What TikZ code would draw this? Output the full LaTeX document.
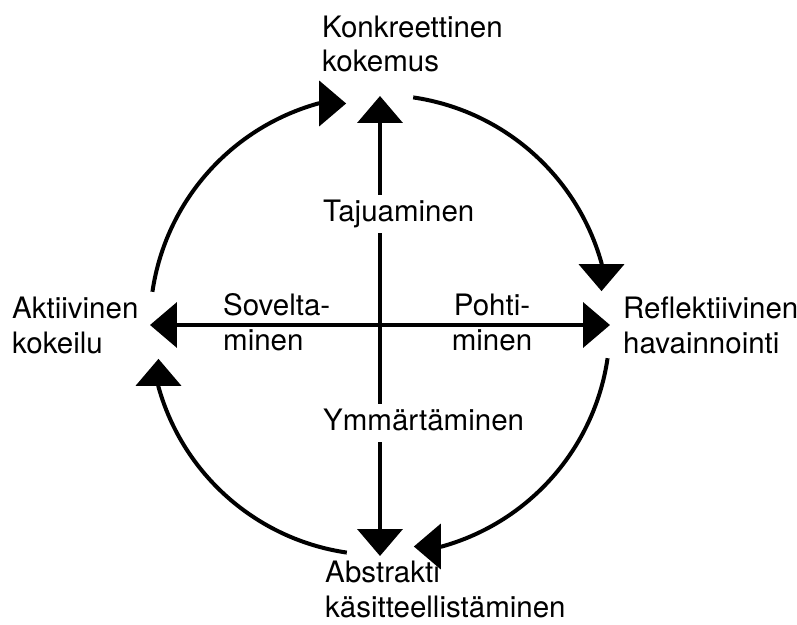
\documentclass[tikz,border=0pt]{standalone}
\usepackage{fontspec}
\setmainfont{TeX Gyre Heros}
\usepackage{tikz}
\usetikzlibrary{arrows.meta,positioning}

\begin{document}
\begin{tikzpicture}[
  x=1pt, y=1pt,
  lbl/.style={anchor=base west, inner sep=0pt, align=left},
  midlbl/.style={anchor=base west, fill=white, inner sep=6pt,
                 text height=20pt, text depth=6pt},
  axis/.style={line width=4pt,
               {Triangle[length=27pt,width=45pt]}-{Triangle[length=27pt,width=45pt]}},
  cyc/.style={line width=4pt, -{Triangle[length=27pt,width=45pt]}},
  font=\fontsize{29.5}{34.5}\selectfont
]
\useasboundingbox (-380,-299) rectangle (417,325);

\coordinate (c)   at (0,0);
\coordinate (top) at (0,229);
\coordinate (bot) at (0,-231);
\coordinate (lft) at (-230,0);
\coordinate (rgt) at (230,0);

% axes
\draw[axis] (bot) -- (top);
\draw[axis] (lft) -- (rgt);

% cycle
\draw[cyc] ([shift={(81.7:230)}]c)  arc[start angle=81.7,  end angle=15.6,   radius=230] -- ++(0,-28);
\draw[cyc] ([shift={(-8.3:230)}]c)  arc[start angle=-8.3,  end angle=-74.4,  radius=230] -- ++(-28,0);
\draw[cyc] ([shift={(-98.3:230)}]c) arc[start angle=-98.3, end angle=-164.4, radius=230] -- ++(0,28);
\draw[cyc] ([shift={(171.7:230)}]c) arc[start angle=171.7, end angle=105.6,  radius=230] -- ++(28,0);

% labels (base = last line)
\node[lbl] (konk) at (-58,253)  {Konkreettinen\\kokemus};
\node[lbl] (refl) at (243,-28)  {Reflektiivinen\\havainnointi};
\node[lbl] (abst) at (-55,-292) {Abstrakti\\käsitteellistäminen};
\node[lbl] (akti) at (-368,-28) {Aktiivinen\\kokeilu};

\node[lbl] (sov)  at (-157,-25) {Sovelta-\\minen};
\node[lbl, anchor=base, align=center] (poh) at (112,-25) {Pohti-\\minen};
\node[midlbl] (taj) at (-63,104)  {Tajuaminen};
\node[midlbl] (ymm) at (-63,-105) {Ymmärtäminen};

\end{tikzpicture}
\end{document}
